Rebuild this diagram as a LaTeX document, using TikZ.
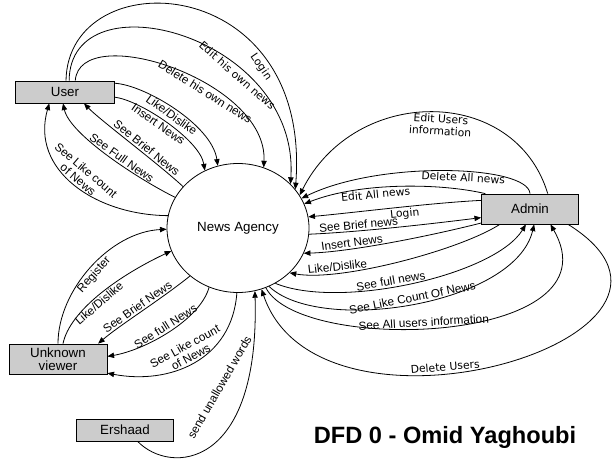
\documentclass[tikz,border=0pt]{standalone}
\usepackage{fontspec}
\setmainfont{Liberation Sans}
\newfontfamily\vfont{DejaVu Sans}
\usetikzlibrary{shapes.geometric,arrows.meta}

\begin{document}
\begin{tikzpicture}[x=0.75pt,y=0.75pt,
    entity/.style={draw,fill=black!20,line width=0.6pt,minimum width=74pt,minimum height=16.5pt,
      inner sep=0pt,font=\fontsize{10}{10}\selectfont},
    process/.style={ellipse,draw,line width=0.6pt,minimum width=106.5pt,minimum height=96.75pt,
      inner sep=0pt,font=\fontsize{10}{11}\selectfont},
    flow/.style={-{Triangle[length=5pt,width=4pt]},line width=0.6pt},
    lbl/.style={sloped,inner sep=1.2pt,align=center,font=\fontsize{8.8}{9.2}\selectfont},
    vlbl/.style={lbl,font=\vfont\fontsize{8.1}{9.2}\selectfont}]

  \useasboundingbox (0,0) rectangle (616,-464);

  % external entities and the process
  \node[entity] (user) at (65,-92) {User};
  \node[entity,minimum width=72.75pt,minimum height=22.5pt] (admin) at (530,-209) {Admin};
  \node[entity,minimum width=73.5pt,minimum height=22.5pt,align=center] (viewer) at (58,-359) {Unknown\\viewer};
  \node[entity,minimum width=72.75pt] (ershaad) at (125,-430) {Ershaad};
  \node[process] (agency) at (238,-228) {News Agency};
  \node[anchor=base,font=\bfseries\fontsize{17.7}{20}\selectfont] (title) at (445,-443) {DFD 0 - Omid Yaghoubi};

  % user flows
  \draw[flow] (user.85) .. controls (68,40) and (312,30) .. (agency.34) node[vlbl,pos=.75,below] {Login};
  \draw[flow] (user.70) .. controls (70,25) and (300,-35) .. (agency.40) node[vlbl,pos=.68,below] {Edit his own news};
  \draw[flow] (user.48) .. controls (80,-20) and (268,-80) .. (agency.67) node[lbl,pos=.63,below] {Delete his own news};
  \draw[flow] (user.10) .. controls (145,-85) and (212,-125) .. (agency.108) node[lbl,pos=.5,below] {Like/Dislike};
  \draw[flow] (user.-6) .. controls (140,-100) and (200,-140) .. (agency.120) node[lbl,pos=.45,below] {Insert News};
  \draw[flow] (agency.143) .. controls (160,-165) and (100,-120) .. (user.-31) node[lbl,pos=.4,above] {See Brief News};
  \draw[flow] (agency.154) .. controls (140,-180) and (70,-135) .. (user.-100) node[lbl,pos=.43,above] {See Full News};
  \draw[flow] (agency.170) .. controls (95,-215) and (30,-170) .. (user.-144) node[lbl,pos=.5,above] {See Like count\\of News};

  % admin flows
  \draw[flow] (admin.41) .. controls (515,-85) and (355,-85) .. (agency.28) node[vlbl,pos=.47,below] {Edit Users\\information};
  \draw[flow] (admin.90) .. controls (528,-165) and (380,-160) .. (agency.25) node[vlbl,pos=.43,below] {Delete All news};
  \draw[flow] (admin.161) .. controls (440,-183) and (360,-182) .. (agency.20) node[vlbl,pos=.62,below] {Edit All news};
  \draw[flow] (admin.170) .. controls (430,-203) and (360,-212) .. (agency.9) node[vlbl,pos=.45,below] {Login};
  \draw[flow] (agency.-5) .. controls (360,-232) and (430,-224) .. (admin.190) node[lbl,pos=.3,above] {See Brief news};
  \draw[flow] (admin.196) .. controls (430,-236) and (350,-252) .. (agency.-21) node[lbl,pos=.7,above] {Insert News};
  \draw[flow] (admin.207) .. controls (460,-250) and (340,-282) .. (agency.-41) node[lbl,pos=.75,above] {Like/Dislike};
  \draw[flow] (agency.-56) .. controls (340,-310) and (495,-275) .. (admin.255) node[lbl,pos=.43,above] {See full news};
  \draw[flow] (agency.-62) .. controls (320,-335) and (515,-305) .. (admin.285) node[lbl,pos=.5,above] {See Like Count Of News};
  \draw[flow] (agency.-65) .. controls (300,-355) and (620,-345) .. (admin.323) node[lbl,pos=.45,above] {See All users information};
  \draw[flow] (admin.338) .. controls (745,-335) and (320,-462) .. (agency.-69) node[vlbl,pos=.6,above] {Delete Users};

  % unknown viewer and ershaad flows
  \draw[flow] (viewer.90) .. controls (58,-290) and (110,-232) .. (agency.181) node[lbl,pos=.48,below] {Register};
  \draw[flow] (viewer.72) .. controls (70,-310) and (120,-275) .. (agency.199) node[lbl,pos=.45,below] {Like/Dislike};
  \draw[flow] (agency.225) .. controls (160,-300) and (120,-325) .. (viewer.21) node[lbl,pos=.5,above] {See Brief News};
  \draw[flow] (agency.244) .. controls (200,-320) and (145,-350) .. (viewer.3) node[lbl,pos=.5,above] {See full News};
  \draw[flow] (agency.269) .. controls (232,-360) and (170,-385) .. (viewer.-16) node[lbl,pos=.5,above] {See Like count\\of News};
  \draw[flow] (ershaad.-42) .. controls (170,-475) and (260,-470) .. (agency.-75)
    node[pos=.78,xshift=-20pt,yshift=-1.5pt,rotate=60,font=\fontsize{8.8}{9.2}\selectfont] {send unallowed words};

\end{tikzpicture}
\end{document}
